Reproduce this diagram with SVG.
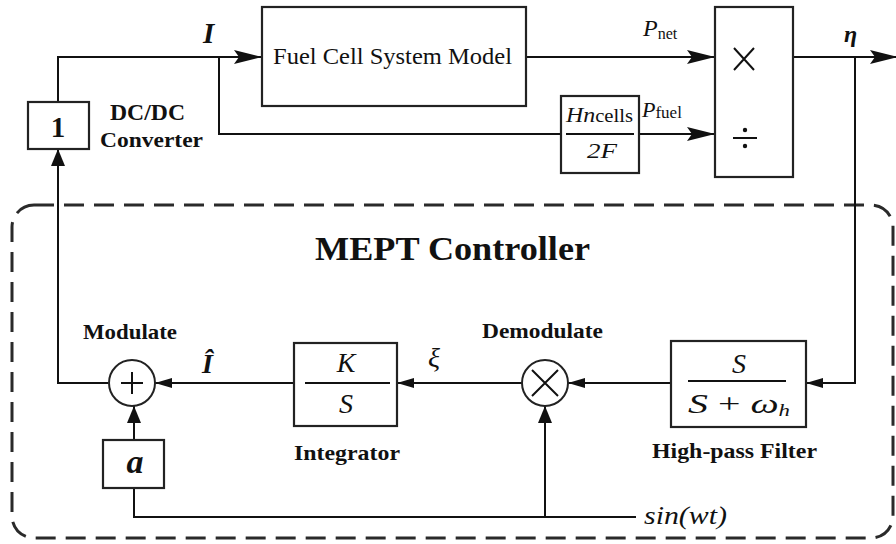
<svg xmlns="http://www.w3.org/2000/svg" width="896" height="544" viewBox="0 0 896 544">
<style>
.ln{stroke:#111;stroke-width:2;fill:none}
.bx{stroke:#222;stroke-width:2.2;fill:#fff}
.t{font-family:"Liberation Serif","Times New Roman",serif;fill:#111}
.b{font-weight:bold}
.i{font-style:italic}
</style>
<defs>
<marker id="big" viewBox="0 0 28 14" refX="28" refY="7" markerWidth="28" markerHeight="14" markerUnits="userSpaceOnUse" orient="auto"><path d="M0,0 L28,7 L0,14 L5,7 z" fill="#111"/></marker>
<marker id="sm" viewBox="0 0 17 10" refX="17" refY="5" markerWidth="17" markerHeight="10" markerUnits="userSpaceOnUse" orient="auto"><path d="M0,0 L17,5 L0,10 z" fill="#111"/></marker>
<marker id="up" viewBox="0 0 17 14" refX="17" refY="7" markerWidth="17" markerHeight="14" markerUnits="userSpaceOnUse" orient="auto"><path d="M0,0 L17,7 L0,14 z" fill="#111"/></marker>
</defs>
<rect width="896" height="544" fill="#fff"/>

<g id="controller-frame">
<rect x="12" y="205" width="881" height="333" rx="22" ry="22" fill="none" stroke="#2a2a2a" stroke-width="3" stroke-dasharray="20 10"/>
<text class="t b" x="315" y="260" font-size="33" textLength="275" lengthAdjust="spacingAndGlyphs">MEPT Controller</text>
</g>

<g id="connectors">
<polyline class="ln" points="58,102 58,57 262,57" marker-end="url(#big)"/>
<polyline class="ln" points="219,57 219,134 561,134"/>
<line class="ln" x1="526" y1="57" x2="715" y2="57" marker-end="url(#big)"/>
<line class="ln" x1="639" y1="134" x2="715" y2="134" marker-end="url(#big)"/>
<line class="ln" x1="793" y1="57" x2="898" y2="57" marker-end="url(#big)"/>
<polyline class="ln" points="855,57 855,383 806,383" marker-end="url(#sm)"/>
<line class="ln" x1="671" y1="383" x2="568" y2="383" marker-end="url(#sm)"/>
<line class="ln" x1="522" y1="383" x2="397" y2="383" marker-end="url(#sm)"/>
<line class="ln" x1="294" y1="383" x2="155" y2="383" marker-end="url(#sm)"/>
<polyline class="ln" points="108,383 58,383 58,149" marker-end="url(#up)"/>
<line class="ln" x1="134" y1="440" x2="134" y2="406" marker-end="url(#up)"/>
<polyline class="ln" points="134,488 134,517 636,517"/>
<line class="ln" x1="545" y1="517" x2="545" y2="406" marker-end="url(#up)"/>
</g>

<g id="dcdc">
<rect class="bx" x="28" y="102" width="61" height="47"/>
<text class="t b" x="58" y="137" font-size="29" text-anchor="middle">1</text>
<text class="t b" x="110" y="120" font-size="23" textLength="75" lengthAdjust="spacingAndGlyphs">DC/DC</text>
<text class="t b" x="100" y="147" font-size="22" textLength="103" lengthAdjust="spacingAndGlyphs">Converter</text>
</g>
<g id="label-I"><text class="t i b" x="203" y="43" font-size="29">I</text></g>

<g id="fcsm">
<rect class="bx" x="262" y="7" width="264" height="99"/>
<text class="t" x="273" y="64" font-size="24" textLength="239" lengthAdjust="spacingAndGlyphs">Fuel Cell System Model</text>
</g>

<g id="hn">
<rect class="bx" x="561" y="96" width="78" height="77"/>
<line class="ln" x1="566" y1="134" x2="634" y2="134"/>
<text class="t" x="566" y="122" font-size="22" textLength="67" lengthAdjust="spacingAndGlyphs"><tspan class="i">Hn</tspan><tspan font-size="19">cells</tspan></text>
<text class="t i" x="587" y="158" font-size="21" textLength="30" lengthAdjust="spacingAndGlyphs">2F</text>
</g>
<g id="label-pnet"><text class="t" x="643" y="36" font-size="24"><tspan class="i">P</tspan><tspan font-size="16" dy="3">net</tspan></text></g>
<g id="label-pfuel"><text class="t" x="642" y="117" font-size="22"><tspan class="i">P</tspan><tspan font-size="17" dy="1">fuel</tspan></text></g>

<g id="muldiv">
<rect class="bx" x="715" y="7" width="78" height="170"/>
<path class="ln" d="M734,48 L754,70 M754,48 L734,70"/>
<line class="ln" x1="733" y1="138" x2="757" y2="138"/>
<circle cx="745" cy="130" r="2.2" fill="#111"/>
<circle cx="745" cy="146" r="2.2" fill="#111"/>
</g>
<g id="label-eta"><text class="t i b" x="844" y="42" font-size="24">η</text></g>

<g id="hpf">
<rect class="bx" x="671" y="341" width="135" height="86"/>
<line class="ln" x1="688" y1="381" x2="786" y2="381"/>
<text class="t i" x="739" y="373" font-size="28" text-anchor="middle">S</text>
<text class="t" x="688" y="413" font-size="28" textLength="102" lengthAdjust="spacingAndGlyphs"><tspan class="i">S</tspan> + <tspan class="i">ω</tspan><tspan font-size="16" dy="3" class="i">h</tspan></text>
<text class="t b" x="652" y="458" font-size="22" textLength="165" lengthAdjust="spacingAndGlyphs">High-pass Filter</text>
</g>

<g id="demod">
<circle cx="545" cy="383" r="23" fill="#fff" stroke="#222" stroke-width="2"/>
<path class="ln" d="M532,370 L558,396 M558,370 L532,396"/>
<text class="t b" x="482" y="338" font-size="22" textLength="121" lengthAdjust="spacingAndGlyphs">Demodulate</text>
</g>
<g id="label-xi"><text class="t i" x="428" y="367" font-size="28">ξ</text></g>

<g id="integrator">
<rect class="bx" x="294" y="343" width="103" height="83"/>
<line class="ln" x1="305" y1="383" x2="390" y2="383"/>
<text class="t i" x="346" y="372" font-size="28" text-anchor="middle">K</text>
<text class="t i" x="346" y="413" font-size="28" text-anchor="middle">S</text>
<text class="t b" x="294" y="460" font-size="22" textLength="106" lengthAdjust="spacingAndGlyphs">Integrator</text>
</g>
<g id="label-ihat"><text class="t i b" x="202" y="373" font-size="28">Î</text></g>

<g id="modulate">
<circle cx="132" cy="383" r="23" fill="#fff" stroke="#222" stroke-width="2"/>
<path class="ln" d="M121,383 L143,383 M132,372 L132,394"/>
<text class="t b" x="83" y="339" font-size="22" textLength="94" lengthAdjust="spacingAndGlyphs">Modulate</text>
</g>

<g id="gain-a">
<rect class="bx" x="103" y="440" width="61" height="48"/>
<text class="t i b" x="135" y="473" font-size="34" text-anchor="middle">a</text>
</g>

<g id="label-sin"><text class="t i" x="644" y="524" font-size="26" textLength="83" lengthAdjust="spacingAndGlyphs">sin(wt)</text></g>
</svg>
